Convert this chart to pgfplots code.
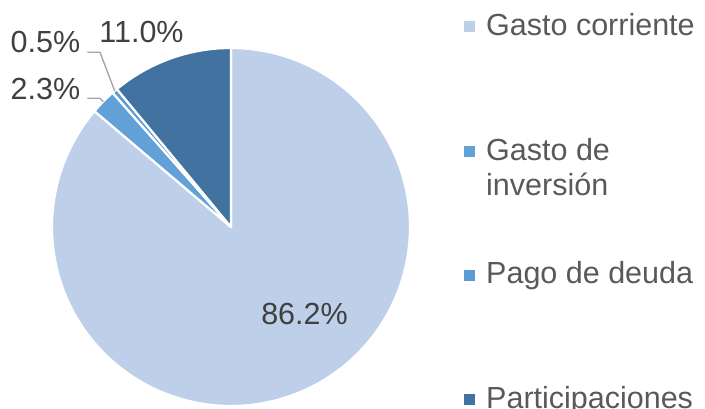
\documentclass[border=0pt]{standalone}
\usepackage{fontspec}
\setmainfont{Liberation Sans}
\usepackage{pgfplots}
\pgfplotsset{compat=1.18}
\definecolor{gcorr}{RGB}{189,207,233}
\definecolor{ginv}{RGB}{98,160,216}
\definecolor{gdeuda}{RGB}{91,155,213}
\definecolor{gpart}{RGB}{66,115,160}
\definecolor{lbltext}{RGB}{64,64,64}
\definecolor{legtext}{RGB}{89,89,89}
\definecolor{leader}{RGB}{166,166,166}

% shares in percent, clockwise from 12 o'clock
\def\pA{86.2}
\def\pB{2.3}
\def\pC{0.5}
\def\pD{11.0}

\begin{document}
\begin{tikzpicture}
\pgfmathsetmacro{\aA}{90-3.6*\pA}
\pgfmathsetmacro{\aB}{\aA-3.6*\pB}
\pgfmathsetmacro{\aC}{\aB-3.6*\pC}
\pgfmathsetmacro{\aD}{\aC-3.6*\pD}
\begin{axis}[
    hide axis,
    x=179bp, y=179bp,
    xmin=-1.05, xmax=1.05, ymin=-1.05, ymax=1.05,
    anchor=origin, at={(0,0)},
    clip=false,
    every axis plot/.append style={draw=white, line width=2.2bp, line join=round, samples=180, variable=\t},
]
  \addplot[fill=gcorr, domain=\aA:90] ({cos(t)},{sin(t)}) -- (0,0) -- cycle;
  \addplot[fill=ginv, domain=\aA+360-3.6*\pB:\aA+360] ({cos(t)},{sin(t)}) -- (0,0) -- cycle;
  \addplot[fill=gdeuda, samples=20, domain=\aB+360-3.6*\pC:\aB+360] ({cos(t)},{sin(t)}) -- (0,0) -- cycle;
  \addplot[fill=gpart, domain=90:\aC+360] ({cos(t)},{sin(t)}) -- (0,0) -- cycle;
\end{axis}

% data labels and leader lines
\begin{scope}[font=\fontsize{30.5bp}{36bp}\selectfont, text=lbltext]
  \node[inner sep=0pt] at (73.5bp,-86.5bp) {86.2\%};
  \node[inner sep=0pt] at (-89.5bp,194.5bp) {11.0\%};
  \node[inner sep=0pt] at (-185.5bp,184.5bp) {0.5\%};
  \node[inner sep=0pt] at (-185.5bp,138bp) {2.3\%};
\end{scope}
\draw[leader, line width=1.4bp] (-143.7bp,174.7bp) -- (-131bp,174.7bp) -- (-116.3bp,136.1bp);
\draw[leader, line width=1.4bp] (-143.7bp,128.7bp) -- (-131bp,128.7bp) -- (-127.7bp,125.4bp);

% legend
\begin{scope}[font=\fontsize{30.5bp}{35bp}\selectfont, text=legtext]
  \fill[gcorr] (233bp,194.5bp) rectangle ++(11bp,11bp);
  \node[inner sep=0pt, anchor=base west] at (255bp,191bp) {Gasto corriente};
  \fill[ginv] (233bp,69.5bp) rectangle ++(11bp,11bp);
  \node[inner sep=0pt, anchor=base west] at (255bp,66bp) {Gasto de};
  \node[inner sep=0pt, anchor=base west] at (255bp,32bp) {inversión};
  \fill[gdeuda] (233bp,-53.5bp) rectangle ++(11bp,11bp);
  \node[inner sep=0pt, anchor=base west] at (255bp,-56bp) {Pago de deuda};
  \fill[gpart] (233bp,-177.5bp) rectangle ++(11bp,11bp);
  \node[inner sep=0pt, anchor=base west] at (255bp,-181bp) {Participaciones};
\end{scope}

\pgfresetboundingbox
\path (-231bp,-182bp) rectangle (474bp,227bp);
\end{tikzpicture}
\end{document}
